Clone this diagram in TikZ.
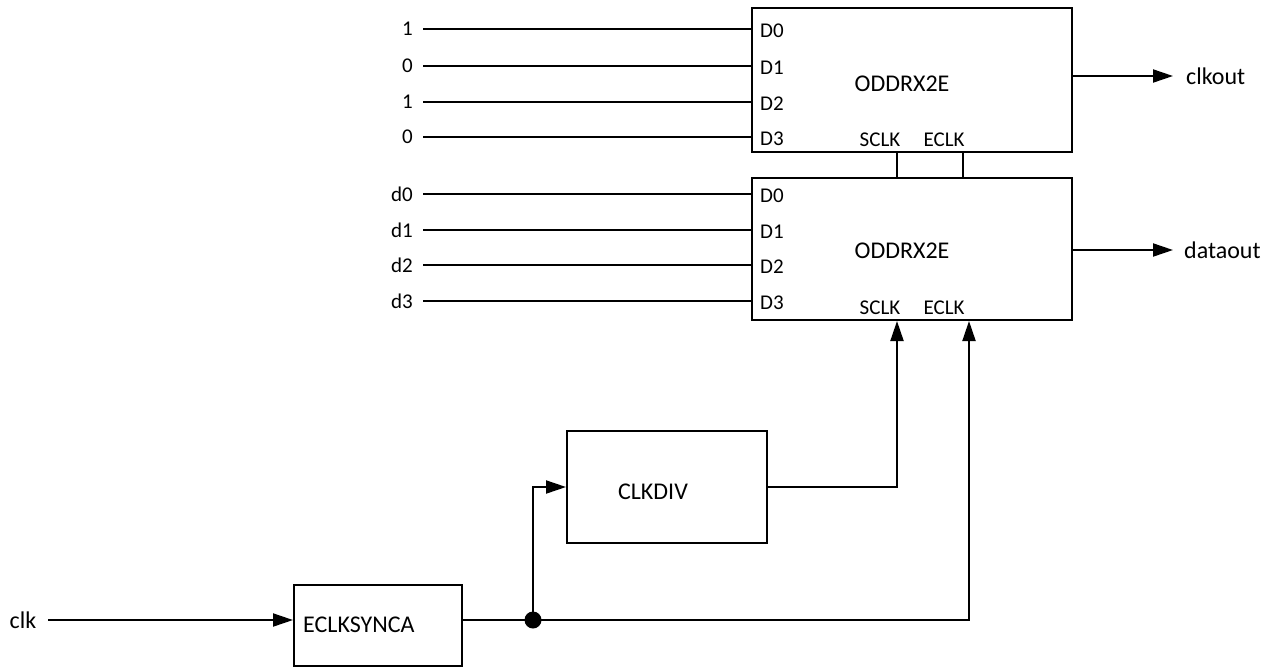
\documentclass[tikz,border=0pt]{standalone}
\usepackage{fontspec}
\setmainfont{Carlito}
\usetikzlibrary{arrows.meta}
\begin{document}
\begin{tikzpicture}[x=1pt,y=-1pt,
  wire/.style={line width=2pt},
  sig/.style={wire,-{Triangle[length=20pt,width=13pt]}},
  blk/.style={draw,line width=2pt,inner sep=0pt},
  big/.style={font=\fontsize{24}{28}\selectfont,inner sep=0pt},
  inlbl/.style={font=\fontsize{21}{24}\selectfont,inner sep=0pt},
  pinlbl/.style={font=\fontsize{21}{24}\selectfont,inner sep=0pt}
]
\useasboundingbox (0,0) rectangle (1279,667);

% blocks
\node[blk,minimum width=320pt,minimum height=144pt] (oddA) at (912,80) {};
\node[big] (oddAt) at (902,84) {ODDRX2E};
\node[blk,minimum width=320pt,minimum height=142pt] (oddB) at (912,249) {};
\node[big] (oddBt) at (902,251) {ODDRX2E};
\node[blk,minimum width=200pt,minimum height=112pt] (div) at (667,487) {};
\node[big] (divt) at (653,492) {CLKDIV};
\node[blk,minimum width=168pt,minimum height=81pt] (sync) at (378,625.5) {};
\node[big,anchor=west] (synct) at (303,625) {ECLKSYNCA};

% top block inputs
\foreach \v/\y/\i in {1/29/0,0/66/1,1/102/2,0/137/3} {
  \node[inlbl,anchor=east] (a\i) at (413,\y) {\v};
  \node[pinlbl,anchor=west] (pa\i) at (760,\y+2) {D\i};
  \draw[wire,shorten <=10pt] (a\i.east) -- (oddA.west |- a\i.east);
}
% bottom block inputs
\foreach \y/\i in {194/0,230/1,265/2,301/3} {
  \node[inlbl,anchor=east] (b\i) at (413,\y) {d\i};
  \node[pinlbl,anchor=west] (pb\i) at (760,\y+2) {D\i};
  \draw[wire,shorten <=10pt] (b\i.east) -- (oddB.west |- b\i.east);
}

% clock pin labels
\node[pinlbl] (sA) at (880,140) {SCLK};
\node[pinlbl] (eA) at (944,140) {ECLK};
\node[pinlbl] (sB) at (880,308) {SCLK};
\node[pinlbl] (eB) at (944,308) {ECLK};

% links between the two ODDRX2E blocks
\coordinate (sk) at (897,0);
\coordinate (ek) at (963,0);
\draw[wire] (oddA.south -| sk) -- (oddB.north -| sk);
\draw[wire] (oddA.south -| ek) -- (oddB.north -| ek);

% outputs
\node[big,anchor=west] (clkout) at (1186,76) {clkout};
\node[big,anchor=west] (dataout) at (1184,250) {dataout};
\draw[sig,shorten >=13pt] (oddA.east |- clkout.west) -- (clkout.west);
\draw[sig,shorten >=11pt] (oddB.east |- dataout.west) -- (dataout.west);

% clock input
\node[big] (clk) at (23,620) {clk};
\draw[sig,shorten <=12pt] (clk.east) -- (sync.west |- clk.east);

% clock distribution
\coordinate (j) at (533,620);
\coordinate (ecol) at (969,0);
\draw[wire] (sync.east |- j) -- (j);
\draw[sig] (j) -- (ecol |- j) -- (ecol |- oddB.south);
\draw[sig] (j) -- (j |- div.west) -- (div.west);
\draw[sig] (div.east) -- (sk |- div.east) -- (sk |- oddB.south);
\fill (j) circle (8.5);
\end{tikzpicture}
\end{document}
